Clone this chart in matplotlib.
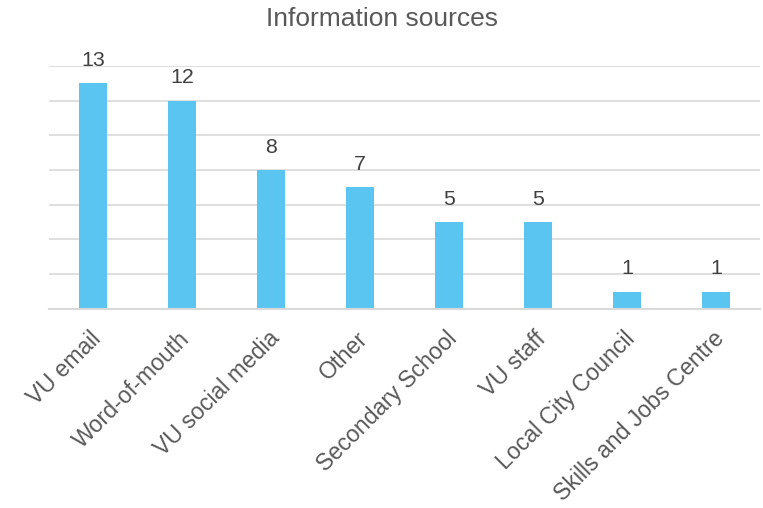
import matplotlib.pyplot as plt
from matplotlib.transforms import ScaledTranslation

plt.rcParams['font.family'] = ['Liberation Sans', 'DejaVu Sans']

categories = ["VU email", "Word-of-mouth", "VU social media", "Other",
              "Secondary School", "VU staff", "Local City Council",
              "Skills and Jobs Centre"]
counts = [13, 12, 8, 7, 5, 5, 1, 1]

bar_color = "#5BC5F2"
text_color = "#595959"
grid_color = "#D9D9D9"

fig = plt.figure(figsize=(7.63, 5.08), dpi=100)
ax = fig.add_axes([0.0636, 0.392, 0.933, 0.478])

x = range(len(categories))
bars = ax.bar(x, counts, width=0.31, color=bar_color, zorder=2)

for b, v in zip(bars, counts):
    ax.annotate(str(v), (b.get_x() + b.get_width() / 2, v),
                xytext=(0, 12.5), textcoords="offset points",
                ha="center", va="baseline", fontsize=15.4, color="#404040")

ax.set_xlim(-0.5, len(categories) - 0.5)
ax.set_ylim(0, 14)
ax.set_yticks(range(0, 15, 2))
ax.yaxis.grid(True, color=grid_color, linewidth=1.2, zorder=0)
ax.tick_params(axis="y", left=False, labelleft=False)
ax.tick_params(axis="x", length=0, pad=8)

ax.set_xticks(list(x))
ax.set_xticklabels(categories, rotation=45, ha="right", rotation_mode="anchor",
                   fontsize=16.7, color=text_color)
# nudge the slanted labels down and slightly left
shift = ScaledTranslation(-2.5 / 72, -5 / 72, fig.dpi_scale_trans)
for lbl in ax.get_xticklabels():
    lbl.set_transform(lbl.get_transform() + shift)

for side in ["top", "right", "left"]:
    ax.spines[side].set_visible(False)
ax.spines["bottom"].set_color(grid_color)
ax.spines["bottom"].set_linewidth(1.5)

fig.text(0.5, 0.962, "Information sources", ha="center", va="center",
         fontsize=19, color=text_color)

fig.savefig("out.png", dpi=100)
